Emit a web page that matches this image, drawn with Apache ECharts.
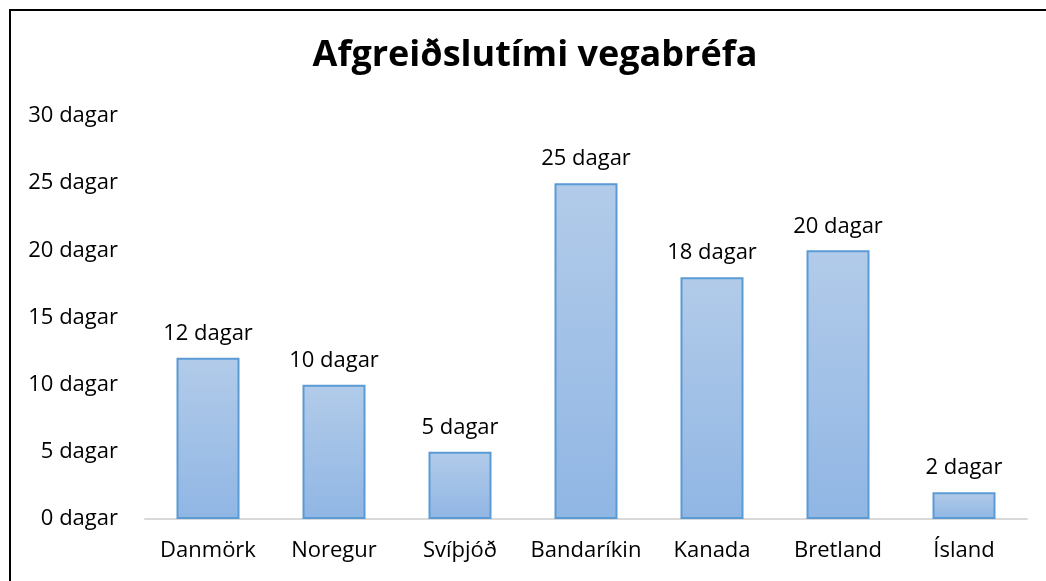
<!DOCTYPE html>
<html>
<head>
<meta charset="utf-8">
<script src="https://cdn.jsdelivr.net/npm/echarts@6/dist/echarts.min.js"></script>
<style>
  html, body { margin: 0; padding: 0; background: #fff; overflow: hidden; }
  #frame {
    position: absolute; left: 9px; top: 9px;
    width: 1100px; height: 640px;
    border: 2px solid #000; box-sizing: border-box;
  }
  #chart { position: absolute; left: 0; top: 0; width: 1046px; height: 581px; }
</style>
</head>
<body>
<div id="frame"></div>
<div id="chart"></div>
<script>
// gögn
const categories = ['Danmörk', 'Noregur', 'Svíþjóð', 'Bandaríkin', 'Kanada', 'Bretland', 'Ísland']
const days = [12, 10, 5, 25, 18, 20, 2]
const unit = ' dagar'

const chart = echarts.init(document.getElementById('chart'), null, { renderer: 'canvas' })

const option = {
  backgroundColor: 'transparent',
  animation: false,
  title: {
    text: 'Afgreiðslutími vegabréfa',
    left: 530,
    top: 33,
    textAlign: 'center',
    textStyle: {
      fontFamily: 'Open Sans',
      fontWeight: 'bold',
      fontSize: 36,
      color: '#000'
    }
  },
  grid: {
    left: 145,
    right: 19,
    top: 116,
    bottom: 62,
    containLabel: false
  },
  xAxis: {
    type: 'category',
    data: categories,
    axisLine: { lineStyle: { color: '#d9d9d9', width: 2 } },
    axisTick: { show: false },
    axisLabel: {
      interval: 0,
      margin: 21,
      fontFamily: 'Open Sans',
      fontSize: 22,
      color: '#000'
    }
  },
  yAxis: {
    type: 'value',
    min: 0,
    max: 30,
    interval: 5,
    splitLine: { show: false },
    axisLine: { show: false },
    axisTick: { show: false },
    axisLabel: {
      margin: 27,
      fontFamily: 'Open Sans',
      fontSize: 22,
      color: '#000',
      formatter: v => v + unit
    }
  },
  series: [{
    type: 'bar',
    data: days,
    barWidth: '50%',
    itemStyle: {
      color: new echarts.graphic.LinearGradient(0, 0, 0, 1, [
        { offset: 0, color: '#b2cbe9' },
        { offset: 1, color: '#90b6e4' }
      ]),
      borderColor: '#5b9bd5',
      borderWidth: 2
    },
    label: {
      show: true,
      position: 'top',
      distance: 13,
      fontFamily: 'Open Sans',
      fontSize: 22,
      color: '#000',
      formatter: p => p.value + unit
    }
  }]
}

chart.setOption(option)
</script>
</body>
</html>
